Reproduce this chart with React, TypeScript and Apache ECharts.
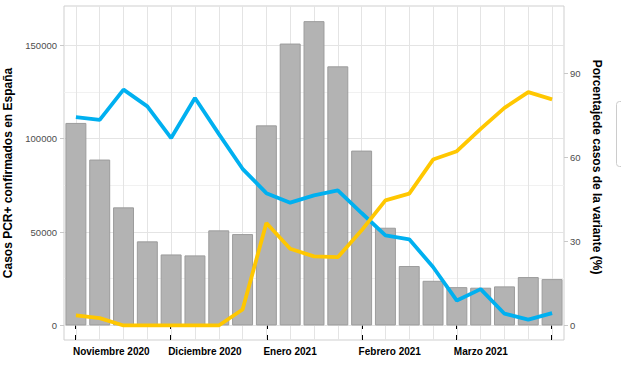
import React, { useEffect, useRef } from "react";
import * as echarts from "echarts";

const weekLabels = [
  "Noviembre 2020", "", "", "", "Diciembre 2020", "", "", "",
  "Enero 2021", "", "", "", "Febrero 2021", "", "", "",
  "Marzo 2021", "", "", "", "",
];
const casos = [
  108400, 88800, 63200, 45000, 38000, 37500, 50900, 48900, 107100, 150900,
  162900, 138700, 93600, 52300, 31800, 23900, 20500, 20200, 20900, 25900, 24800,
];
const otrasVariantes = [
  74.5, 73.5, 84.3, 78.3, 67.0, 81.3, 68.5, 56.0, 47.3, 43.9, 46.5, 48.3, 40.2,
  32.2, 30.8, 20.9, 8.9, 13.0, 4.2, 2.1, 4.4,
];
const varianteB117 = [
  3.6, 2.6, 0, 0, 0, 0, 0, 5.7, 36.6, 27.4, 24.7, 24.4, 34.0, 44.7, 47.1, 59.3,
  62.3, 70.3, 77.8, 83.4, 80.8,
];
const leftTicks = [0, 50000, 100000, 150000];
const leftMinorTicks = [25000, 75000, 125000];
const rightTicks = [0, 30, 60, 90];

const FONT = "Liberation Sans";

export default function App() {
  const ref = useRef<HTMLDivElement>(null);
  useEffect(() => {
    if (!ref.current) return;
    const chart = echarts.init(ref.current, undefined, { renderer: "svg" });
    const xBase = {
      type: "category" as const,
      data: weekLabels,
      gridIndex: 0,
      position: "bottom" as const,
      boundaryGap: true,
    };
    chart.setOption({
      animation: false,
      backgroundColor: "#ffffff",
      textStyle: { fontFamily: FONT },
      grid: {
        left: 64,
        top: 6,
        width: 500,
        height: 334,
        show: true,
        containLabel: false,
        outerBoundsMode: "none",
        borderColor: "#cfcfcf",
        borderWidth: 1,
        backgroundColor: "transparent",
      },
      xAxis: [
        {
          ...xBase,
          axisLine: { show: false },
          axisTick: {
            show: true,
            alignWithLabel: true,
            interval: 0,
            length: 3,
            lineStyle: { color: "#d6d6d6", width: 1 },
          },
          axisLabel: {
            show: true,
            interval: 3,
            align: "left",
            margin: 6,
            padding: [0, 0, 0, -3],
            fontSize: 10,
            fontWeight: "bold",
            color: "#000000",
            fontFamily: FONT,
          },
          splitLine: { show: false },
        },
        {
          ...xBase,
          axisLine: { show: false },
          axisTick: {
            show: true,
            alignWithLabel: true,
            interval: 3,
            length: 3.5,
            lineStyle: { color: "#000000", width: 2 },
          },
          axisLabel: { show: false },
          splitLine: { show: false },
        },
        {
          ...xBase,
          axisLine: { show: false },
          axisTick: {
            show: true,
            inside: true,
            alignWithLabel: true,
            interval: 3,
            length: 5,
            lineStyle: { color: "#000000", width: 2 },
          },
          axisLabel: { show: false },
          splitLine: { show: false },
        },
      ],
      yAxis: [
        {
          type: "value",
          min: -7800,
          max: 171000,
          splitNumber: 4,
          name: "Casos PCR+ confirmados en España",
          nameLocation: "middle",
          nameGap: 47,
          nameRotate: 90,
          nameTextStyle: {
            fontSize: 12,
            fontWeight: "bold",
            color: "#000000",
            fontFamily: FONT,
          },
          axisLine: { show: false },
          axisTick: {
            show: true,
            customValues: leftTicks,
            length: 4,
            lineStyle: { color: "#c8c8c8" },
          },
          axisLabel: {
            customValues: leftTicks,
            formatter: (v: number) => String(v),
            margin: 7,
            fontSize: 9.5,
            color: "#4d4d4d",
            fontFamily: FONT,
          },
          splitLine: { show: true, lineStyle: { color: "#e4e4e4", width: 1 } },
        },
        {
          type: "value",
          min: -5.2,
          max: 114.2,
          splitNumber: 4,
          position: "right",
          name: "Porcentajede casos de la variante (%)",
          nameLocation: "middle",
          nameGap: 24,
          nameRotate: -90,
          nameTextStyle: {
            fontSize: 12,
            fontWeight: "bold",
            color: "#000000",
            fontFamily: FONT,
            padding: [0, 12, 0, 0],
          },
          axisLine: { show: false },
          axisTick: {
            show: true,
            customValues: rightTicks,
            length: 4,
            lineStyle: { color: "#c8c8c8" },
          },
          axisLabel: {
            customValues: rightTicks,
            formatter: (v: number) => String(v),
            margin: 6,
            fontSize: 9.5,
            color: "#4d4d4d",
            fontFamily: FONT,
          },
          splitLine: { show: false },
        },
      ],
      series: [
        {
          name: "Casos",
          type: "bar",
          xAxisIndex: 0,
          yAxisIndex: 0,
          data: casos,
          barWidth: "88%",
          z: 2,
          itemStyle: { color: "#b3b3b3", borderColor: "#9c9c9c", borderWidth: 1 },
          markLine: {
            silent: true,
            z: 1,
            symbol: "none",
            label: { show: false },
            animation: false,
            data: [
              ...leftMinorTicks.map((v) => ({
                yAxis: v,
                lineStyle: { color: "#f1f1f1", width: 1, type: "solid" },
              })),
              ...weekLabels.map((_, i) => ({
                xAxis: i,
                lineStyle: { color: "#e4e4e4", width: 1, type: "solid" },
              })),
            ],
          },
        },
        {
          name: "Otras variantes",
          type: "line",
          xAxisIndex: 0,
          yAxisIndex: 1,
          data: otrasVariantes,
          showSymbol: false,
          z: 3,
          lineStyle: { color: "#00b0f0", width: 3.8 },
          itemStyle: { color: "#00b0f0" },
        },
        {
          name: "Variante B.1.1.7",
          type: "line",
          xAxisIndex: 0,
          yAxisIndex: 1,
          data: varianteB117,
          showSymbol: false,
          z: 3,
          lineStyle: { color: "#ffc700", width: 3.8 },
          itemStyle: { color: "#ffc700" },
        },
      ],
      graphic: [
        {
          type: "rect",
          shape: { x: 616.5, y: 101.5, width: 30, height: 65, r: 3 },
          style: { fill: "#ffffff", stroke: "#cccccc", lineWidth: 1 },
        },
      ],
    });
    return () => chart.dispose();
  }, []);
  return (
    <div
      ref={ref}
      style={{ position: "absolute", left: 0, top: 0, width: 621, height: 367 }}
    />
  );
}
